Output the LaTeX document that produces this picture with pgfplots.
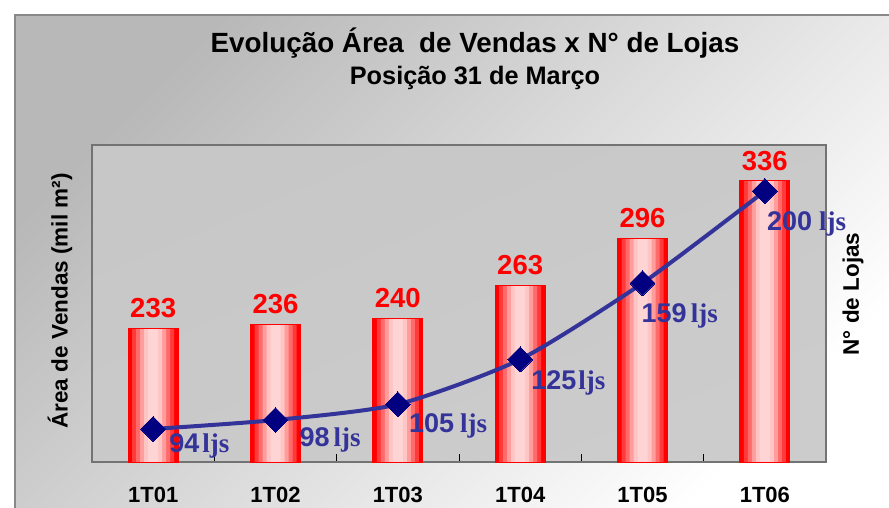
\documentclass[border=0pt]{standalone}
\usepackage{pgfplots}
\pgfplotsset{compat=1.18}
\usepackage{fontspec}
\setmainfont{Liberation Sans}
\newfontfamily\tnr{Liberation Serif}
\definecolor{linecol}{HTML}{333399}
\definecolor{markcol}{HTML}{000080}
\definecolor{bordercol}{HTML}{888888}
\definecolor{s1}{HTML}{FF3A3A}
\definecolor{s2}{HTML}{FF6A6A}
\definecolor{s3}{HTML}{FF9C9C}
\definecolor{s4}{HTML}{FFC4C4}
\definecolor{s5}{HTML}{FFD4D4}
\newcommand{\fs}[1]{\fontsize{#1}{#1}\selectfont}
\pgfplotstableread{
x y
0 233
1 236
2 240
3 263
4 296
5 336
}\areadata
\pgfplotstableread{
x y
0 94
1 98
2 105
3 125
4 159
5 200
}\lojasdata
\begin{document}
\begin{tikzpicture}
\useasboundingbox (0,0) rectangle (889bp,-508bp);
\fill[white] (0,0) rectangle (889bp,-508bp);
\shade[top color=black!28, middle color=black!6, bottom color=white, shading angle=45] (15bp,-15bp) rectangle (889bp,-508bp);
\draw[bordercol, line width=2.5bp] (15bp,-508bp) -- (15bp,-15bp) -- (889bp,-15bp);
\node[font=\bfseries\fs{27.8bp}] at (475bp,-43bp) {Evolução Área\ \ de Vendas x N° de Lojas};
\node[font=\bfseries\fs{25.3bp}] at (475bp,-78bp) {Posição 31 de Março};
\node[rotate=90,font=\bfseries\fs{22.5bp}] at (60bp,-301bp) {Área de Vendas (mil m²)};
\node[rotate=90,font=\bfseries\fs{22.5bp}] at (853bp,-294bp) {N° de Lojas};
\begin{axis}[
  at={(92bp,-462bp)}, anchor=south west,
  width=734bp, height=317bp, scale only axis,
  xmin=-0.5, xmax=5.5, ymin=140, ymax=361,
  ytick=\empty,
  xtick={0,...,5}, xticklabels={1T01,1T02,1T03,1T04,1T05,1T06},
  minor xtick={0.5,1.5,2.5,3.5,4.5},
  major tick length=0pt, minor tick length=8bp,
  tick align=inside, xtick pos=bottom,
  minor tick style={black, line width=0.8bp},
  xticklabel style={font=\bfseries\fs{22bp}, inner sep=0pt, anchor=north, yshift=-25bp},
  axis line style={draw=black!55, line width=2bp},
  axis background/.style={shade, top color=black!22, middle color=black!8, bottom color=black!20, shading angle=23},
  /pgf/number format/assume math mode=true,
  clip=false,
]
\addplot[ybar, bar width=50bp, draw=red, line width=0.8bp, fill=red,
  nodes near coords,
  every node near coord/.append style={font=\bfseries\fs{27.5bp}, text=red, inner sep=0pt, anchor=south, yshift=10bp}]
  table[x=x,y=y] {\areadata};
\addplot[ybar, bar width=42bp, draw=none, fill=s1] table[x=x,y=y] {\areadata};
\addplot[ybar, bar width=34bp, draw=none, fill=s2] table[x=x,y=y] {\areadata};
\addplot[ybar, bar width=26bp, draw=none, fill=s3] table[x=x,y=y] {\areadata};
\addplot[ybar, bar width=18bp, draw=none, fill=s4] table[x=x,y=y] {\areadata};
\addplot[ybar, bar width=10bp, draw=none, fill=s5] table[x=x,y=y] {\areadata};
\addplot[ybar, bar width=50bp, draw=red, line width=0.8bp, fill=none] table[x=x,y=y] {\areadata};
\end{axis}
\begin{axis}[
  at={(92bp,-462bp)}, anchor=south west,
  width=734bp, height=317bp, scale only axis,
  xmin=-0.5, xmax=5.5, ymin=79.3, ymax=220.5,
  hide axis, clip=false,
]
\addplot[linecol, line width=4bp, smooth, tension=0.4,
  mark=square*, mark size=8.8bp, mark options={rotate=45, fill=markcol, draw=markcol, line width=0pt}]
  table[x=x,y=y] {\lojasdata};
\begin{scope}[every node/.style={anchor=base west, inner sep=0pt, text=linecol, font=\bfseries\fs{27bp}}]
\node[xshift=16bp, yshift=-23bp] at (axis cs:0,94) {94\hspace{3bp}{\tnr ljs}};
\node[xshift=24bp, yshift=-26bp] at (axis cs:1,98) {98\hspace{4bp}{\tnr ljs}};
\node[xshift=11bp, yshift=-28bp] at (axis cs:2,105) {105\hspace{6bp}{\tnr ljs}};
\node[xshift=11bp, yshift=-30bp] at (axis cs:3,125) {125\hspace{2bp}{\tnr ljs}};
\node[xshift=-1bp, yshift=-39bp] at (axis cs:4,159) {159\hspace{4bp}{\tnr ljs}};
\node[xshift=2bp, yshift=-39bp] at (axis cs:5,200) {200\hspace{7bp}{\tnr ljs}};
\end{scope}
\end{axis}
\end{tikzpicture}
\end{document}
